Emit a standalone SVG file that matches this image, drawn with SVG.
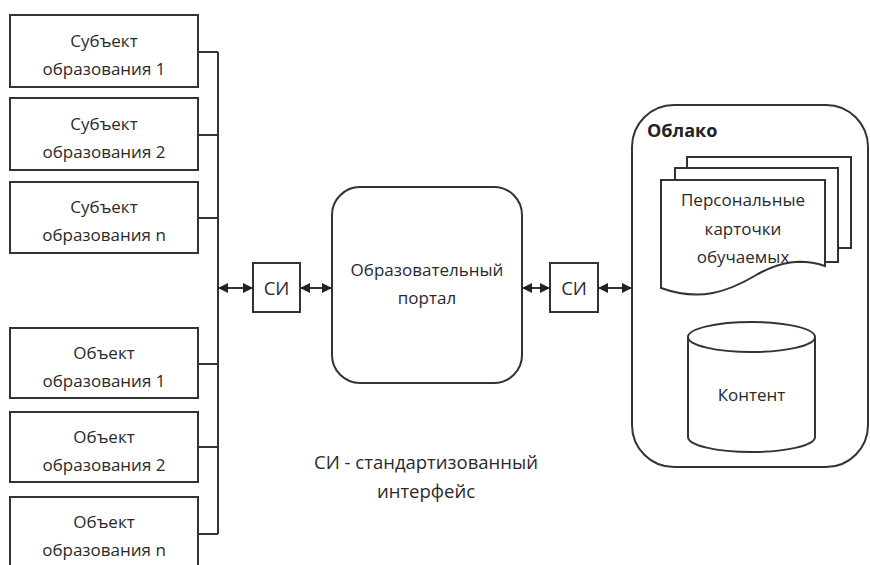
<svg xmlns="http://www.w3.org/2000/svg" width="870" height="565" viewBox="0 0 870 565">
<style>
.b{fill:#fff;stroke:#333;stroke-width:2}
.l{fill:none;stroke:#333;stroke-width:2}
.t{font-family:"Open Sans","DejaVu Sans",sans-serif;font-size:17px;fill:#2a2a2a;text-anchor:middle}
.tb{font-family:"Open Sans","DejaVu Sans",sans-serif;font-size:18px;fill:#222;font-weight:bold}
.tl{font-family:"Open Sans","DejaVu Sans",sans-serif;font-size:18.5px;fill:#2a2a2a;text-anchor:middle}
</style>
<defs>
<marker id="ah" viewBox="0 0 10 10" refX="9" refY="5" markerWidth="5" markerHeight="5" orient="auto-start-reverse" markerUnits="strokeWidth">
<path d="M0,0 L10,5 L0,10 Z" fill="#222"/>
</marker>
</defs>
<rect width="870" height="565" fill="#fff"/>
<g id="connectors">
<path class="l" d="M198,52 H218 M198,135 H218 M198,218 H218 M198,364 H218 M198,447 H218 M198,534 H218 M218,52 V534"/>
<line class="l" x1="219" y1="288" x2="252" y2="288" marker-start="url(#ah)" marker-end="url(#ah)"/>
<line class="l" x1="301" y1="288" x2="331" y2="288" marker-start="url(#ah)" marker-end="url(#ah)"/>
<line class="l" x1="523" y1="288" x2="549" y2="288" marker-start="url(#ah)" marker-end="url(#ah)"/>
<line class="l" x1="599" y1="288" x2="631" y2="288" marker-start="url(#ah)" marker-end="url(#ah)"/>
</g>
<g id="subj1"><rect class="b" x="10" y="15" width="188" height="72"/><text class="t" x="104" y="47">Субъект</text><text class="t" x="104" y="75">образования 1</text></g>
<g id="subj2"><rect class="b" x="10" y="98" width="188" height="72"/><text class="t" x="104" y="130">Субъект</text><text class="t" x="104" y="158">образования 2</text></g>
<g id="subjn"><rect class="b" x="10" y="182" width="188" height="71"/><text class="t" x="104" y="213">Субъект</text><text class="t" x="104" y="241">образования n</text></g>
<g id="obj1"><rect class="b" x="10" y="328" width="188" height="70"/><text class="t" x="104" y="359">Объект</text><text class="t" x="104" y="387">образования 1</text></g>
<g id="obj2"><rect class="b" x="10" y="412" width="188" height="70"/><text class="t" x="104" y="443">Объект</text><text class="t" x="104" y="471">образования 2</text></g>
<g id="objn"><rect class="b" x="10" y="497" width="188" height="80"/><text class="t" x="104" y="528">Объект</text><text class="t" x="104" y="556">образования n</text></g>
<g id="si1"><rect class="b" x="253" y="263" width="47" height="49"/><text class="tl" x="276.5" y="295">СИ</text></g>
<g id="portal"><rect class="b" x="332" y="187" width="190" height="196" rx="28"/><text class="t" x="427" y="276">Образовательный</text><text class="t" x="427" y="304">портал</text></g>
<g id="si2"><rect class="b" x="550" y="263" width="48" height="49"/><text class="tl" x="574" y="295">СИ</text></g>
<g id="cloud"><rect class="b" x="632" y="105" width="236" height="362" rx="42"/><text class="tb" x="647" y="137">Облако</text></g>
<g id="cards">
<rect class="b" x="687" y="157" width="164" height="91"/>
<rect class="b" x="675" y="168" width="163" height="94"/>
<path class="b" d="M661,180 H825 V266 C800,258 780,262 758,274 C728,292 700,302 661,288 Z"/>
<text class="t" x="743" y="206">Персональные</text>
<text class="t" x="743" y="235">карточки</text>
<text class="t" x="743" y="263">обучаемых</text>
</g>
<g id="content">
<path class="b" d="M688,337 V437 A63.5,15 0 0 0 815,437 V337"/>
<ellipse class="b" cx="751.5" cy="337" rx="63.5" ry="15"/>
<text class="t" x="751.5" y="401">Контент</text>
</g>
<g id="legend"><text class="tl" x="426" y="469">СИ - стандартизованный</text><text class="tl" x="426" y="498">интерфейс</text></g>
</svg>
